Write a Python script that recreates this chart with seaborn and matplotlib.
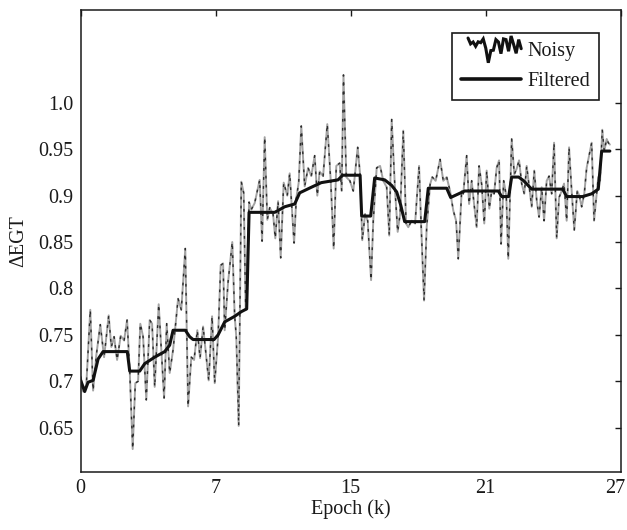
import numpy as np
import pandas as pd
import matplotlib
matplotlib.use("Agg")
import matplotlib.pyplot as plt
import matplotlib.transforms as mtransforms
from matplotlib.lines import Line2D
from matplotlib.legend_handler import HandlerBase
import seaborn as sns

# Noisy EGT margin samples (x in axis position units 0..27)
noisy_x = [0.00, 0.12, 0.28, 0.48, 0.62, 0.78, 0.98, 1.17, 1.40, 1.53, 1.67, 1.82,
           2.00, 2.17, 2.32, 2.45, 2.60, 2.73, 2.87, 2.98, 3.12, 3.28, 3.45, 3.57,
           3.70, 3.90, 4.03, 4.17, 4.30, 4.45, 4.62, 4.87, 5.03, 5.23, 5.37, 5.53,
           5.67, 5.83, 5.97, 6.12, 6.28, 6.40, 6.57, 6.70, 6.87, 7.00, 7.12, 7.20,
           7.37, 7.58, 7.70, 7.78, 7.90, 8.03, 8.15, 8.25, 8.33, 8.42, 8.53, 8.70,
           8.95, 9.07, 9.20, 9.33, 9.45, 9.62, 9.73, 9.87, 10.00, 10.15, 10.33, 10.45,
           10.67, 10.78, 10.90, 11.03, 11.20, 11.37, 11.53, 11.70, 11.83, 11.95, 12.12, 12.33,
           12.50, 12.65, 12.78, 12.95, 13.05, 13.14, 13.28, 13.46, 13.63, 13.85, 13.97, 14.08,
           14.22, 14.35, 14.52, 14.63, 14.80, 14.97, 15.13, 15.30, 15.43, 15.55, 15.72, 15.85,
           15.97, 16.13, 16.27, 16.38, 16.55, 16.72, 16.92, 17.02, 17.17, 17.30, 17.47, 17.58,
           17.75, 17.97, 18.13, 18.30, 18.47, 18.63, 18.77, 18.88, 19.05, 19.13, 19.30, 19.42,
           19.55, 19.65, 19.80, 19.92, 20.05, 20.18, 20.30, 20.43, 20.55, 20.67, 20.80, 20.92,
           21.02, 21.15, 21.28, 21.38, 21.55, 21.68, 21.80, 21.92, 22.05, 22.18, 22.30, 22.43,
           22.55, 22.68, 22.80, 22.92, 23.05, 23.17, 23.30, 23.42, 23.55, 23.67, 23.80, 23.92,
           24.05, 24.17, 24.30, 24.42, 24.55, 24.68, 24.83, 24.93, 25.05, 25.18, 25.30, 25.42,
           25.55, 25.67, 25.75, 25.88, 25.97, 26.08, 26.18, 26.30, 26.38, 26.46]
noisy_y = [0.705, 0.689, 0.696, 0.777, 0.690, 0.728, 0.761, 0.726, 0.771, 0.737, 0.748, 0.723,
           0.749, 0.744, 0.766, 0.712, 0.627, 0.698, 0.700, 0.762, 0.748, 0.680, 0.766, 0.762,
           0.694, 0.783, 0.734, 0.682, 0.762, 0.709, 0.734, 0.789, 0.777, 0.843, 0.673, 0.726,
           0.723, 0.755, 0.725, 0.759, 0.726, 0.701, 0.770, 0.698, 0.748, 0.825, 0.827, 0.755,
           0.807, 0.850, 0.770, 0.748, 0.652, 0.915, 0.903, 0.777, 0.823, 0.893, 0.885, 0.892,
           0.917, 0.851, 0.963, 0.874, 0.887, 0.880, 0.854, 0.894, 0.833, 0.914, 0.900, 0.924,
           0.849, 0.897, 0.914, 0.975, 0.910, 0.930, 0.921, 0.943, 0.900, 0.926, 0.921, 0.977,
           0.917, 0.843, 0.932, 0.935, 0.905, 1.030, 0.920, 0.916, 0.905, 0.952, 0.923, 0.852,
           0.880, 0.873, 0.809, 0.873, 0.930, 0.932, 0.916, 0.909, 0.857, 0.982, 0.905, 0.861,
           0.880, 0.970, 0.870, 0.866, 0.873, 0.870, 0.932, 0.870, 0.787, 0.866, 0.912, 0.920,
           0.916, 0.939, 0.916, 0.920, 0.905, 0.884, 0.873, 0.832, 0.905, 0.902, 0.943, 0.891,
           0.916, 0.895, 0.866, 0.932, 0.912, 0.870, 0.927, 0.886, 0.905, 0.902, 0.930, 0.938,
           0.848, 0.916, 0.900, 0.832, 0.961, 0.923, 0.929, 0.938, 0.913, 0.902, 0.932, 0.909,
           0.888, 0.927, 0.895, 0.877, 0.909, 0.873, 0.916, 0.921, 0.902, 0.957, 0.854, 0.898,
           0.905, 0.913, 0.873, 0.952, 0.905, 0.863, 0.905, 0.900, 0.888, 0.902, 0.930, 0.943,
           0.957, 0.873, 0.891, 0.920, 0.916, 0.971, 0.948, 0.961, 0.957, 0.955]

# Filtered estimate
filt_x = [0.00, 0.20, 0.37, 0.62, 0.87, 1.12, 2.33, 2.45, 2.95, 3.20, 3.70, 4.20,
          4.45, 4.62, 5.23, 5.45, 5.62, 6.67, 6.87, 7.20, 7.70, 8.03, 8.30, 8.42,
          9.70, 9.87, 10.20, 10.70, 10.95, 11.53, 12.03, 12.87, 13.10, 13.97, 14.05, 14.50,
          14.70, 15.20, 15.55, 15.80, 16.00, 16.20, 17.20, 17.38, 18.30, 18.50, 18.80, 19.20,
          20.88, 21.05, 21.40, 21.55, 21.90, 22.15, 22.55, 24.10, 24.30, 25.10, 25.55, 25.88,
          26.05, 26.46]
filt_y = [0.701, 0.689, 0.699, 0.701, 0.724, 0.732, 0.732, 0.711, 0.711, 0.719, 0.726, 0.732,
          0.739, 0.755, 0.755, 0.748, 0.745, 0.745, 0.750, 0.764, 0.770, 0.775, 0.778, 0.882,
          0.882, 0.884, 0.888, 0.891, 0.903, 0.909, 0.914, 0.917, 0.922, 0.922, 0.878, 0.878,
          0.919, 0.917, 0.911, 0.904, 0.890, 0.872, 0.872, 0.908, 0.908, 0.898, 0.901, 0.905,
          0.905, 0.899, 0.899, 0.920, 0.920, 0.916, 0.907, 0.907, 0.899, 0.899, 0.902, 0.907,
          0.948, 0.948]

x_tick_labels = ["0", "7", "15", "21", "27"]
y_ticks = [0.65, 0.70, 0.75, 0.80, 0.85, 0.90, 0.95, 1.00]
y_tick_labels = ["0.65", "0.7", "0.75", "0.8", "0.85", "0.9", "0.95", "1.0"]

noisy = pd.DataFrame({"epoch": noisy_x, "egt": noisy_y})
filt = pd.DataFrame({"epoch": filt_x, "egt": filt_y})

sns.set_style("white")
plt.rcParams["font.family"] = ["Liberation Serif", "DejaVu Serif"]

FS = 14.5
INK = "#1a1a1a"

fig = plt.figure(figsize=(6.27, 5.30), dpi=100)
ax = fig.add_axes([0.1287, 0.1089, 0.8612, 0.8723])

# noisy trace: grey line with sparse dark dashes laid over it
sns.lineplot(data=noisy, x="epoch", y="egt", ax=ax, color="#a3a3a3", lw=1.4,
             estimator=None, sort=False)
sns.lineplot(data=noisy, x="epoch", y="egt", ax=ax, color="#2b2b2b", lw=1.0,
             estimator=None, sort=False, linestyle=(0, (2.0, 4.5)))
sns.lineplot(data=filt, x="epoch", y="egt", ax=ax, color="#111111", lw=2.2,
             estimator=None, sort=False)

ax.set_xlim(0, 27)
ax.set_ylim(0.602, 1.10)
ax.set_xticks(np.linspace(0, 27, len(x_tick_labels)))
ax.set_xticklabels(x_tick_labels)
ax.set_yticks(y_ticks)
ax.set_yticklabels(y_tick_labels)
ax.tick_params(direction="in", top=True, right=True, length=4, width=1,
               labelsize=FS, colors=INK, pad=5)
for s in ax.spines.values():
    s.set_color(INK)
    s.set_linewidth(1.1)

# nudge the last x label so it stays inside the canvas
last = ax.get_xticklabels()[-1]
last.set_transform(last.get_transform() +
                   mtransforms.ScaledTranslation(-4 / 72, 0, fig.dpi_scale_trans))

ax.set_xlabel("Epoch (k)", fontsize=FS, color=INK)
ax.set_ylabel("ΔEGT", fontsize=FS, color=INK)
ax.xaxis.set_label_coords(0.5, -0.058)
ax.yaxis.set_label_coords(-0.097, 0.5)


class NoisyHandle(HandlerBase):
    """Legend key drawn as a short jagged stretch of the noisy trace."""
    def create_artists(self, legend, orig_handle, xdescent, ydescent,
                       width, height, fontsize, trans):
        seg = np.asarray(noisy_y[8:30])
        xs = np.linspace(width * 0.12, width, len(seg)) - xdescent
        ys = (seg - seg.min()) / (seg.max() - seg.min()) * height * 1.9 \
            - ydescent - height * 0.45
        ln = Line2D(xs, ys, color="#111111", lw=2.2, solid_joinstyle="miter")
        ln.set_transform(trans)
        return [ln]


noisy_key = Line2D([], [], color="#111111", lw=2)
filt_key = Line2D([], [], color="#111111", lw=2.6)
leg = ax.legend([noisy_key, filt_key], ["Noisy", "Filtered"],
                handler_map={noisy_key: NoisyHandle()},
                loc="upper right", bbox_to_anchor=(0.96, 0.9496), borderaxespad=0,
                frameon=True, fancybox=False, framealpha=1, edgecolor=INK,
                fontsize=FS, handlelength=3.0, handletextpad=0.3, labelspacing=0.5,
                borderpad=0.45)
leg.get_frame().set_linewidth(1.2)
for t in leg.get_texts():
    t.set_color(INK)

fig.savefig("out.png", dpi=100)
